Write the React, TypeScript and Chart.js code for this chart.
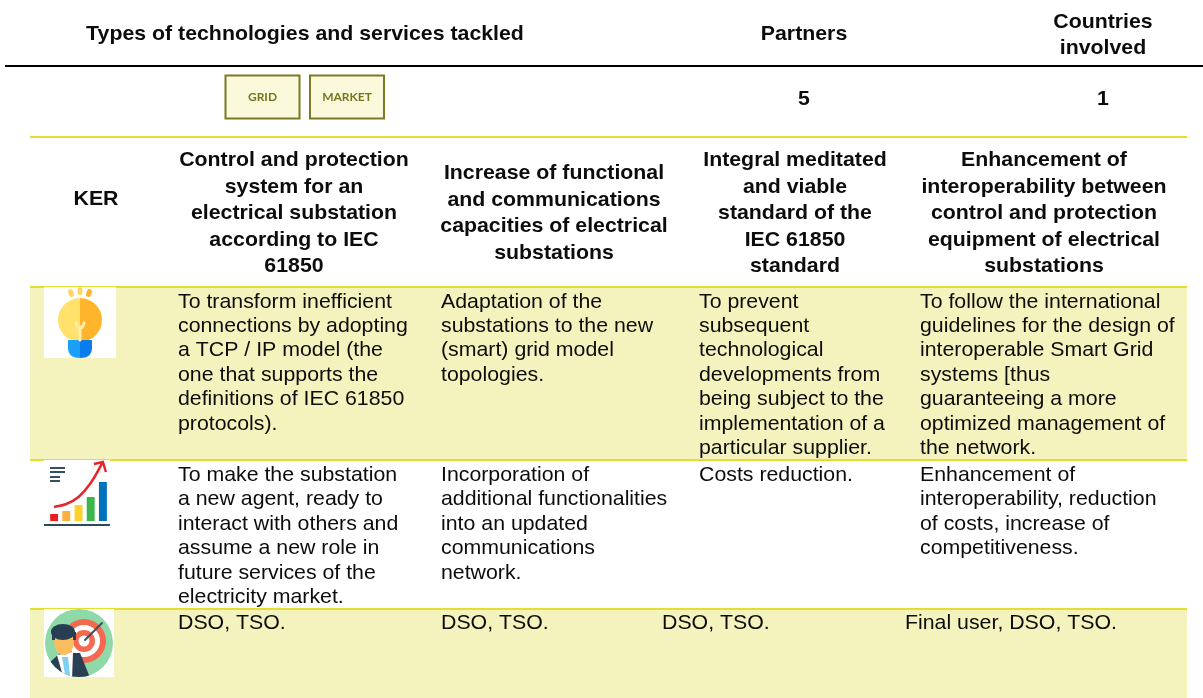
import React, { useEffect, useRef } from "react";
import { Chart, registerables } from "chart.js";

Chart.register(...registerables);

const topHeaders = ["Types of technologies and services tackled", "Partners", "Countries\ninvolved"];
const topValues = ["5", "1"];
const tags = ["GRID", "MARKET"];
const kerLabel = "KER";
const kerHeaders = [
  "Control and protection\nsystem for an\nelectrical substation\naccording to IEC\n61850",
  "Increase of functional\nand communications\ncapacities of electrical\nsubstations",
  "Integral meditated\nand viable\nstandard of the\nIEC 61850\nstandard",
  "Enhancement of\ninteroperability between\ncontrol and protection\nequipment of electrical\nsubstations",
];
const benefits = [
  "To transform inefficient\nconnections by adopting\na TCP / IP model (the\none that supports the\ndefinitions of IEC 61850\nprotocols).",
  "Adaptation of the\nsubstations to the new\n(smart) grid model\ntopologies.",
  "To prevent\nsubsequent\ntechnological\ndevelopments from\nbeing subject to the\nimplementation of a\nparticular supplier.",
  "To follow the international\nguidelines for the design of\ninteroperable Smart Grid\nsystems [thus\nguaranteeing a more\noptimized management of\nthe network.",
];
const impacts = [
  "To make the substation\na new agent, ready to\ninteract with others and\nassume a new role in\nfuture services of the\nelectricity market.",
  "Incorporation of\nadditional functionalities\ninto an updated\ncommunications\nnetwork.",
  "Costs reduction.",
  "Enhancement of\ninteroperability, reduction\nof costs, increase of\ncompetitiveness.",
];
const users = ["DSO, TSO.", "DSO, TSO.", "DSO, TSO.", "Final user, DSO, TSO."];

const iconCategories = ["a", "b", "c", "d", "e"];
const iconBars = [7, 10, 16, 24, 39];
const iconCurve = [14, 17, 24, 38, 59];
const iconColors = ["#ED1C24", "#FBB040", "#FFD22B", "#3CB54A", "#0071BC"];

const FONT = '"Liberation Sans", Arial, sans-serif';
const SIZE = 20.4;
const SCALE_X = 1.045;

type Ctx = CanvasRenderingContext2D;

function text(ctx: Ctx, s: string, x: number, y: number, lh: number, bold: boolean, align: CanvasTextAlign) {
  ctx.save();
  ctx.translate(x, 0);
  ctx.scale(SCALE_X, 1);
  ctx.font = `${bold ? "bold " : ""}${SIZE}px ${FONT}`;
  ctx.textAlign = align;
  ctx.textBaseline = "alphabetic";
  ctx.fillStyle = "#0c0c0c";
  s.split("\n").forEach((l, i) => ctx.fillText(l, 0, y + i * lh));
  ctx.restore();
}

function bulb(ctx: Ctx) {
  ctx.fillStyle = "#fff";
  ctx.fillRect(44, 287, 72, 71);
  for (const [x, y, a] of [[71, 293, -0.3], [80, 291, 0], [89, 293, 0.3]]) {
    ctx.save();
    ctx.translate(x, y);
    ctx.rotate(a);
    ctx.beginPath();
    ctx.roundRect(-2.5, -4, 5, 8, 2.5);
    ctx.fillStyle = x > 80 ? "#FFB52B" : "#FFD768";
    ctx.fill();
    ctx.restore();
  }
  ctx.fillStyle = "#FFE16B";
  ctx.beginPath();
  ctx.arc(80, 320, 22, Math.PI / 2, -Math.PI / 2);
  ctx.fill();
  ctx.fillStyle = "#FFB52B";
  ctx.beginPath();
  ctx.arc(80, 320, 22, -Math.PI / 2, Math.PI / 2);
  ctx.fill();
  ctx.fillStyle = "#1AA0FB";
  ctx.beginPath();
  ctx.moveTo(68, 340);
  ctx.lineTo(80, 340);
  ctx.lineTo(80, 358);
  ctx.quadraticCurveTo(68, 358, 68, 348);
  ctx.fill();
  ctx.fillStyle = "#0B7CEB";
  ctx.beginPath();
  ctx.moveTo(92, 340);
  ctx.lineTo(80, 340);
  ctx.lineTo(80, 358);
  ctx.quadraticCurveTo(92, 358, 92, 348);
  ctx.fill();
  ctx.strokeStyle = "#FFEFA8";
  ctx.lineWidth = 3;
  ctx.lineCap = "round";
  ctx.beginPath();
  ctx.moveTo(80, 340);
  ctx.lineTo(80, 327);
  ctx.moveTo(76, 323);
  ctx.quadraticCurveTo(77, 328, 80, 328);
  ctx.quadraticCurveTo(83, 328, 84, 323);
  ctx.stroke();
}

function person(ctx: Ctx) {
  ctx.fillStyle = "#fff";
  ctx.fillRect(44, 609, 70, 68);
  ctx.save();
  ctx.beginPath();
  ctx.arc(79, 643, 34, 0, Math.PI * 2);
  ctx.fillStyle = "#8FD9A8";
  ctx.fill();
  ctx.clip();
  const rings: [number, string][] = [[22, "#F4694F"], [16, "#fff"], [11, "#F4694F"], [5.5, "#fff"]];
  for (const [r, c] of rings) {
    ctx.fillStyle = c;
    ctx.beginPath();
    ctx.arc(84, 641, r, 0, Math.PI * 2);
    ctx.fill();
  }
  ctx.strokeStyle = "#3B5266";
  ctx.lineWidth = 2;
  ctx.beginPath();
  ctx.moveTo(85, 640);
  ctx.lineTo(102, 623);
  ctx.stroke();
  ctx.fillStyle = "#2A3F54";
  ctx.beginPath();
  ctx.moveTo(47, 665);
  ctx.lineTo(60, 653);
  ctx.lineTo(80, 653);
  ctx.lineTo(91, 680);
  ctx.lineTo(47, 680);
  ctx.fill();
  ctx.fillStyle = "#fff";
  ctx.beginPath();
  ctx.moveTo(57, 655);
  ctx.lineTo(73, 652);
  ctx.lineTo(72, 680);
  ctx.lineTo(64, 680);
  ctx.fill();
  ctx.fillStyle = "#7FD0F0";
  ctx.beginPath();
  ctx.moveTo(62, 657);
  ctx.lineTo(68, 657);
  ctx.lineTo(70, 675);
  ctx.lineTo(66, 680);
  ctx.fill();
  ctx.fillStyle = "#FBBE5E";
  ctx.beginPath();
  ctx.ellipse(64, 642, 10, 13, 0, 0, Math.PI * 2);
  ctx.fill();
  ctx.fillStyle = "#263D52";
  ctx.beginPath();
  ctx.ellipse(63, 632, 12, 8, 0, 0, Math.PI * 2);
  ctx.fill();
  ctx.fillRect(52, 632, 3, 8);
  ctx.fillRect(73, 632, 3, 8);
  ctx.restore();
}

const tablePlugin = {
  id: "table",
  beforeDraw(chart: any) {
    const ctx: Ctx = chart.ctx;
    ctx.save();
    ctx.fillStyle = "#fff";
    ctx.fillRect(0, 0, 1203, 698);
    ctx.fillStyle = "#F5F3BD";
    ctx.fillRect(30, 287, 1157, 172);
    ctx.fillRect(30, 609, 1157, 89);
    ctx.fillStyle = "#E3DE2F";
    for (const y of [136, 286, 459, 608]) ctx.fillRect(30, y, 1157, 2);
    ctx.fillStyle = "#000";
    ctx.fillRect(5, 65, 1198, 2);

    text(ctx, topHeaders[0], 305, 40, 0, true, "center");
    text(ctx, topHeaders[1], 804, 40, 0, true, "center");
    text(ctx, topHeaders[2], 1103, 28, 25.5, true, "center");
    text(ctx, topValues[0], 804, 105, 0, true, "center");
    text(ctx, topValues[1], 1103, 105, 0, true, "center");

    [225.5, 310].forEach((x, i) => {
      ctx.fillStyle = "#FAF9DC";
      ctx.strokeStyle = "#7B7A22";
      ctx.lineWidth = 2;
      ctx.fillRect(x, 75.5, 74, 43);
      ctx.strokeRect(x, 75.5, 74, 43);
      ctx.font = "bold 12px Lato, sans-serif";
      ctx.fillStyle = "#76761E";
      ctx.textAlign = "center";
      ctx.textBaseline = "middle";
      ctx.fillText(tags[i], x + 37, 97);
    });

    text(ctx, kerLabel, 96, 205, 0, true, "center");
    const hx = [294, 554, 795, 1044];
    const hy = [166, 179, 166, 166];
    kerHeaders.forEach((s, i) => text(ctx, s, hx[i], hy[i], 26.5, true, "center"));

    const bx = [178, 441, 699, 920];
    benefits.forEach((s, i) => text(ctx, s, bx[i], 307.5, 24.45, false, "left"));
    impacts.forEach((s, i) => text(ctx, s, bx[i], 481, 24.45, false, "left"));
    const ux = [178, 441, 662, 905];
    users.forEach((s, i) => text(ctx, s, ux[i], 629, 0, false, "left"));

    bulb(ctx);
    ctx.fillStyle = "#fff";
    ctx.fillRect(44, 460, 66, 66);
    person(ctx);
    ctx.restore();
  },
};

const iconPlugin = {
  id: "iconExtras",
  afterDraw(chart: any) {
    const ctx: Ctx = chart.ctx;
    const x = chart.scales.x;
    const y = chart.scales.y;
    const px = x.getPixelForValue(4);
    const py = y.getPixelForValue(iconCurve[4]);
    ctx.save();
    ctx.strokeStyle = "#E8242C";
    ctx.lineWidth = 2.5;
    ctx.beginPath();
    ctx.moveTo(px - 9, py + 2);
    ctx.lineTo(px, py);
    ctx.lineTo(px + 3, py + 10);
    ctx.stroke();
    ctx.fillStyle = "#2C4A5A";
    ctx.fillRect(0, y.bottom + 3, chart.width, 2);
    ctx.fillStyle = "#34505F";
    for (const [ly, lw] of [[7, 15], [11, 15], [16, 10], [20, 10]]) ctx.fillRect(6, ly, lw, 2);
    ctx.restore();
  },
};

export default function App() {
  const mainRef = useRef<HTMLCanvasElement>(null);
  const iconRef = useRef<HTMLCanvasElement>(null);
  useEffect(() => {
    const main = new Chart(mainRef.current!, {
      type: "scatter",
      data: { datasets: [] },
      options: {
        animation: false,
        responsive: false,
        plugins: { legend: { display: false }, tooltip: { enabled: false } },
        scales: { x: { display: false }, y: { display: false } },
      },
      plugins: [tablePlugin],
    });
    const icon = new Chart(iconRef.current!, {
      type: "bar",
      data: {
        labels: iconCategories,
        datasets: [
          { type: "line", data: iconCurve, borderColor: "#E8242C", borderWidth: 2.5, pointRadius: 0, tension: 0.4 },
          { type: "bar", data: iconBars, backgroundColor: iconColors, barPercentage: 0.65, categoryPercentage: 1 },
        ],
      } as any,
      options: {
        animation: false,
        responsive: false,
        layout: { padding: { left: 4, right: 1, top: 0, bottom: 5 } },
        plugins: { legend: { display: false }, tooltip: { enabled: false } },
        scales: { x: { display: false }, y: { display: false, min: 0, max: 61 } },
      },
      plugins: [iconPlugin],
    });
    return () => {
      main.destroy();
      icon.destroy();
    };
  }, []);
  return (
    <div style={{ position: "absolute", left: 0, top: 0, width: 1203, height: 698, overflow: "hidden" }}>
      <canvas ref={mainRef} width={1203} height={698} style={{ position: "absolute", left: 0, top: 0 }} />
      <canvas ref={iconRef} width={66} height={66} style={{ position: "absolute", left: 44, top: 460 }} />
    </div>
  );
}
